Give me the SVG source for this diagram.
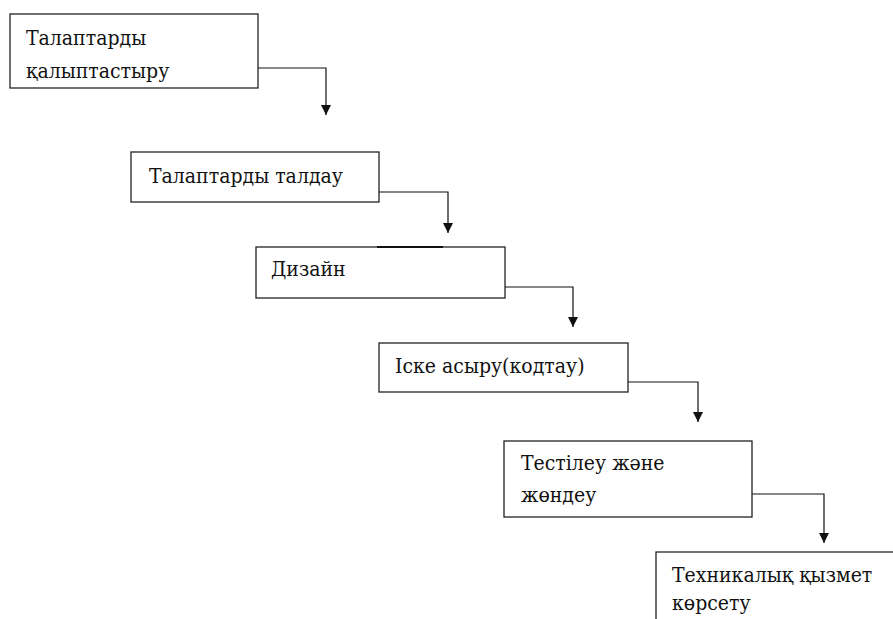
<svg xmlns="http://www.w3.org/2000/svg" width="893" height="619" viewBox="0 0 893 619">
<style>
.box{fill:#fff;stroke:#222;stroke-width:1.3}
.t{font-family:"DejaVu Serif","Liberation Serif",serif;font-stretch:condensed;font-size:21px;fill:#111}
.c{fill:none;stroke:#111;stroke-width:1.2}
</style>
<defs>
<marker id="ah" viewBox="0 0 10 10" refX="10" refY="5" markerWidth="10" markerHeight="10" markerUnits="userSpaceOnUse" orient="auto">
<path d="M0,0 L10,5 L0,10 z" fill="#111"/>
</marker>
</defs>
<rect width="893" height="619" fill="#fff"/>
<g id="connectors">
<path class="c" d="M258,68 H326 V115" marker-end="url(#ah)"/>
<path class="c" d="M379,192 H448 V233" marker-end="url(#ah)"/>
<path class="c" d="M505,287 H573 V327" marker-end="url(#ah)"/>
<path class="c" d="M628,382 H698 V422" marker-end="url(#ah)"/>
<path class="c" d="M752,494 H824 V543" marker-end="url(#ah)"/>
</g>
<g id="n1">
<rect class="box" x="10" y="14" width="248" height="74"/>
<text class="t" x="26" y="45">Талаптарды</text>
<text class="t" x="26" y="78">қалыптастыру</text>
</g>
<g id="n2">
<rect class="box" x="131" y="152" width="248" height="50"/>
<text class="t" x="149" y="183">Талаптарды талдау</text>
</g>
<g id="n3">
<rect class="box" x="256" y="247" width="249" height="51"/>
<line x1="377" y1="247" x2="443" y2="247" stroke="#111" stroke-width="2"/>
<text class="t" x="271" y="276">Дизайн</text>
</g>
<g id="n4">
<rect class="box" x="379" y="343" width="249" height="49"/>
<text class="t" x="395" y="373">Іске асыру(кодтау)</text>
</g>
<g id="n5">
<rect class="box" x="504" y="441" width="248" height="76"/>
<text class="t" x="521" y="470">Тестілеу және</text>
<text class="t" x="521" y="502">жөндеу</text>
</g>
<g id="n6">
<rect class="box" x="656" y="552" width="260" height="90"/>
<text class="t" x="672" y="582">Техникалық қызмет</text>
<text class="t" x="672" y="610">көрсету</text>
</g>
</svg>
